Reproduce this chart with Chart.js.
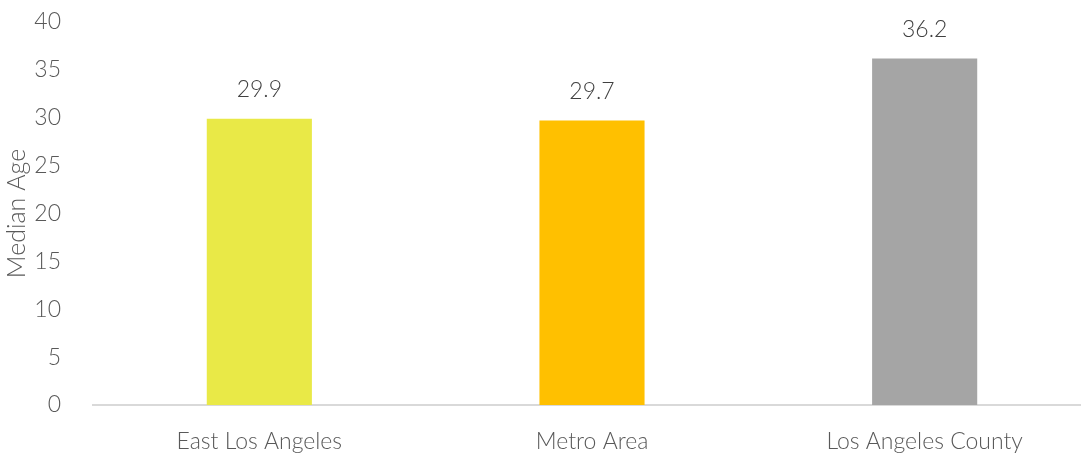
<!DOCTYPE html>
<html>
<head>
<meta charset="utf-8">
<script src="https://cdn.jsdelivr.net/npm/chart.js@4"></script>
<style>
  html, body { margin: 0; padding: 0; background: #fff; overflow: hidden; }
  /* plot runs a little past the right edge of the window */
  #wrap { width: 1091px; height: 454px; }
</style>
</head>
<body>
<div id="wrap"><canvas id="grafica"></canvas></div>
<script>
const categorias = ['East Los Angeles', 'Metro Area', 'Los Angeles County'];
const edades = [29.9, 29.7, 36.2];
const colores = ['#E9E947', '#FFC000', '#A5A5A5'];

const fuente = "Lato, 'Segoe UI', sans-serif";

// value labels above each bar
const etiquetas = {
  id: 'etiquetas',
  afterDatasetsDraw(chart) {
    const ctx = chart.ctx;
    const meta = chart.getDatasetMeta(0);
    ctx.save();
    ctx.font = '300 23px ' + fuente;
    ctx.fillStyle = '#404040';
    ctx.textAlign = 'center';
    ctx.textBaseline = 'middle';
    meta.data.forEach(function(bar, i) {
      ctx.fillText(edades[i].toFixed(1), bar.x, bar.y - 29);
    });
    ctx.restore();
  }
};

const graph = document.querySelector('#grafica');

new Chart(graph, {
  type: 'bar',
  data: {
    labels: categorias,
    datasets: [{
      label: 'Median Age',
      data: edades,
      backgroundColor: colores,
      borderWidth: 0,
      barPercentage: 0.316,
      categoryPercentage: 1
    }]
  },
  options: {
    responsive: true,
    maintainAspectRatio: false,
    animation: false,
    layout: { padding: { top: 22, right: 0, left: 0, bottom: 0 } },
    plugins: {
      legend: { display: false },
      tooltip: { enabled: false }
    },
    scales: {
      x: {
        grid: { display: false },
        border: { display: true, color: '#D9D9D9', width: 2 },
        ticks: { color: '#595959', font: { family: fuente, size: 23, weight: '300' }, padding: 15, maxRotation: 0 },
        afterFit(scale) { scale.height = 49; }
      },
      y: {
        min: 0,
        max: 40,
        grid: { display: false },
        border: { display: false },
        ticks: { stepSize: 5, color: '#595959', font: { family: fuente, size: 23, weight: '300' }, padding: 24 },
        title: {
          display: true,
          text: 'Median Age',
          color: '#595959',
          font: { family: fuente, size: 25, weight: '300' },
          padding: { top: 2, bottom: 0 }
        },
        afterFit(scale) {
          scale.width = 93;
          scale.paddingTop = 0;
          scale.paddingBottom = 0;
        }
      }
    }
  },
  plugins: [etiquetas]
});
</script>
</body>
</html>
